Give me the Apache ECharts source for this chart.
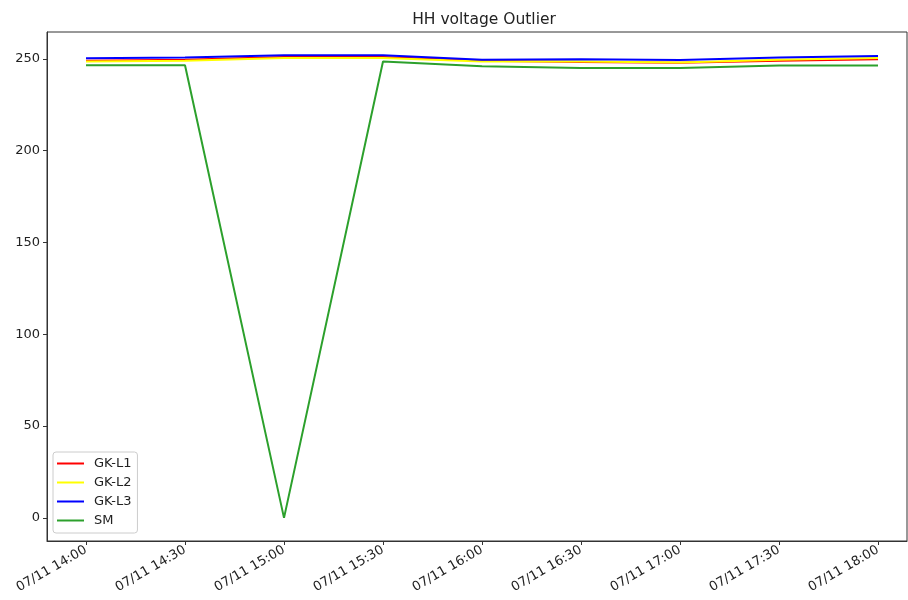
<!DOCTYPE html>
<html><head><meta charset="utf-8">
<script src="https://cdn.jsdelivr.net/npm/echarts@6/dist/echarts.min.js"></script>
<style>html,body{margin:0;padding:0;background:#fff}#c{width:908px;height:600px}</style>
</head><body><div id="c"></div>
<script>
const timeLabels = ['07/11 14:00','07/11 14:30','07/11 15:00','07/11 15:30','07/11 16:00','07/11 16:30','07/11 17:00','07/11 17:30','07/11 18:00'];
const gkL1 = [249, 249.5, 251, 251, 249, 248.3, 247.8, 249, 249.8];
const gkL2 = [248.5, 249, 250.5, 250.5, 248.5, 248.5, 248, 249.5, 250.5];
const gkL3 = [250.3, 250.7, 252, 252, 249.5, 249.7, 249.3, 250.7, 251.5];
const sm   = [246.5, 246.5, 0, 248.5, 246, 245, 245, 246.3, 246.3];
const yTicks = [0, 50, 100, 150, 200, 250];

const idx = timeLabels.map((_, i) => i);
const pts = arr => arr.map((v, i) => [i, v]);
const font = 'DejaVu Sans';
const chart = echarts.init(document.getElementById('c'));
const mk = (name, data, color) => ({
  name, type: 'line', data: pts(data), symbol: 'none',
  lineStyle: { color, width: 2 }, itemStyle: { color }, animation: false
});
chart.setOption({
  animation: false,
  title: { text: 'HH voltage Outlier', left: 479, top: 7, textAlign: 'center',
    textStyle: { fontFamily: font, fontSize: 15.5, fontWeight: 'normal', color: '#222' } },
  grid: { left: 47, right: 1, top: 32, bottom: 59, show: true, borderColor: '#333', borderWidth: 1 },
  legend: {
    orient: 'vertical', left: 53, top: 452, icon: 'rect', itemWidth: 27, itemHeight: 2, itemGap: 4,
    padding: [4, 6, 5, 4], backgroundColor: 'rgba(255,255,255,0.8)', borderColor: '#ccc', borderWidth: 1, borderRadius: 3,
    textStyle: { fontFamily: font, fontSize: 13, lineHeight: 15, color: '#222', padding: [0, 0, 0, 5] },
    data: ['GK-L1', 'GK-L2', 'GK-L3', 'SM']
  },
  xAxis: {
    type: 'value', min: -0.394, max: 8.293, splitLine: { show: false },
    axisLine: { show: true, onZero: false, lineStyle: { color: '#333' } },
    axisTick: { show: true, length: 4, customValues: idx, lineStyle: { color: '#333' } },
    axisLabel: { customValues: idx, rotate: 30, margin: 8, fontFamily: font, fontSize: 13, color: '#222',
      formatter: v => timeLabels[Math.round(v)] || '' }
  },
  yAxis: {
    type: 'value', min: -12.6, max: 264.6, splitLine: { show: false },
    axisLine: { show: true, onZero: false, lineStyle: { color: '#333' } },
    axisTick: { show: true, length: 4, customValues: yTicks, lineStyle: { color: '#333' } },
    axisLabel: { customValues: yTicks, margin: 7, fontFamily: font, fontSize: 13, color: '#222' }
  },
  series: [
    mk('GK-L1', gkL1, '#ff0000'),
    mk('GK-L2', gkL2, '#ffff00'),
    mk('GK-L3', gkL3, '#0000ff'),
    mk('SM', sm, '#2ca02c')
  ]
});
</script></body></html>
